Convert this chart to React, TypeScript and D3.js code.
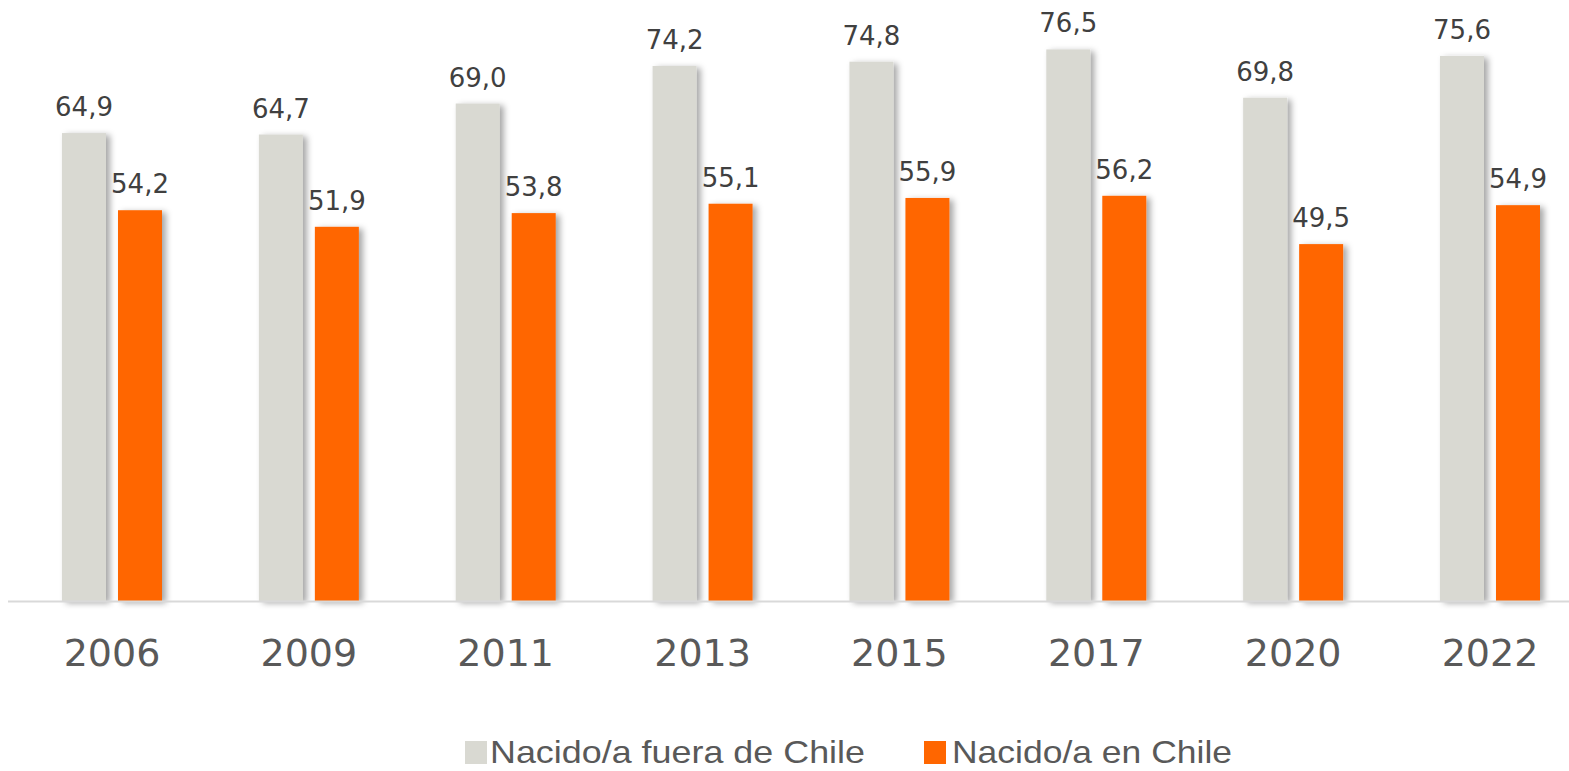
import React from "react";
import * as d3 from "d3";

const years = ["2006", "2009", "2011", "2013", "2015", "2017", "2020", "2022"];
const foreignBorn = [64.9, 64.7, 69.0, 74.2, 74.8, 76.5, 69.8, 75.6];
const chileBorn = [54.2, 51.9, 53.8, 55.1, 55.9, 56.2, 49.5, 54.9];
const seriesNames = ["Nacido/a fuera de Chile", "Nacido/a en Chile"];
const seriesColors = ["#d9d9d2", "#ff6600"];

const W = 1569;
const H = 771;
const baseY = 601;

export default function App() {
  const x = d3.scalePoint<string>().domain(years).range([112, 1490]);
  const xs = d3.scaleBand<string>().domain(["a", "b"]).range([-50, 50]).paddingInner(12 / 56);
  const y = d3.scaleLinear().domain([0, 80]).range([baseY, baseY - 80 * 7.21]);
  const fmt = (v: number) => v.toFixed(1).replace(".", ",");
  const series = [foreignBorn, chileBorn];
  const keys = ["a", "b"];

  return (
    <svg width={W} height={H} style={{ position: "absolute", left: 0, top: 0, background: "#fff" }}>
      <defs>
        <filter id="sh" x="-30%" y="-5%" width="160%" height="110%">
          <feDropShadow dx="4" dy="2" stdDeviation="3" floodColor="#000" floodOpacity="0.35" />
        </filter>
      </defs>
      {series.map((vals, si) =>
        vals.map((v, i) => {
          const bx = (x(years[i]) as number) + (xs(keys[si]) as number);
          return (
            <rect
              key={`b${si}-${i}`}
              x={bx}
              y={y(v)}
              width={xs.bandwidth()}
              height={baseY - y(v)}
              fill={seriesColors[si]}
              filter="url(#sh)"
            />
          );
        })
      )}
      <line x1={8} x2={W} y1={baseY + 0.5} y2={baseY + 0.5} stroke="#d9d9d9" strokeWidth={2} />
      {series.map((vals, si) =>
        vals.map((v, i) => {
          const cx = (x(years[i]) as number) + (xs(keys[si]) as number) + xs.bandwidth() / 2;
          return (
            <text
              key={`l${si}-${i}`}
              x={cx}
              y={y(v) - 17}
              textAnchor="middle"
              fontFamily="DejaVu Sans"
              fontSize={26}
              fill="#404040"
            >
              {fmt(v)}
            </text>
          );
        })
      )}
      {years.map((yr) => (
        <text
          key={yr}
          x={x(yr) as number}
          y={666}
          textAnchor="middle"
          fontFamily="DejaVu Sans"
          fontSize={38}
          fill="#595959"
        >
          {yr}
        </text>
      ))}
      {[
        { sx: 465, tx: 490, tw: 375 },
        { sx: 924, tx: 952, tw: 280 },
      ].map((l, i) => (
        <g key={`lg${i}`}>
          <rect x={l.sx} y={741} width={22} height={23} fill={seriesColors[i]} />
          <text
            x={l.tx}
            y={763}
            fontFamily="Liberation Sans"
            fontSize={32}
            fill="#595959"
            textLength={l.tw}
            lengthAdjust="spacingAndGlyphs"
          >
            {seriesNames[i]}
          </text>
        </g>
      ))}
    </svg>
  );
}
